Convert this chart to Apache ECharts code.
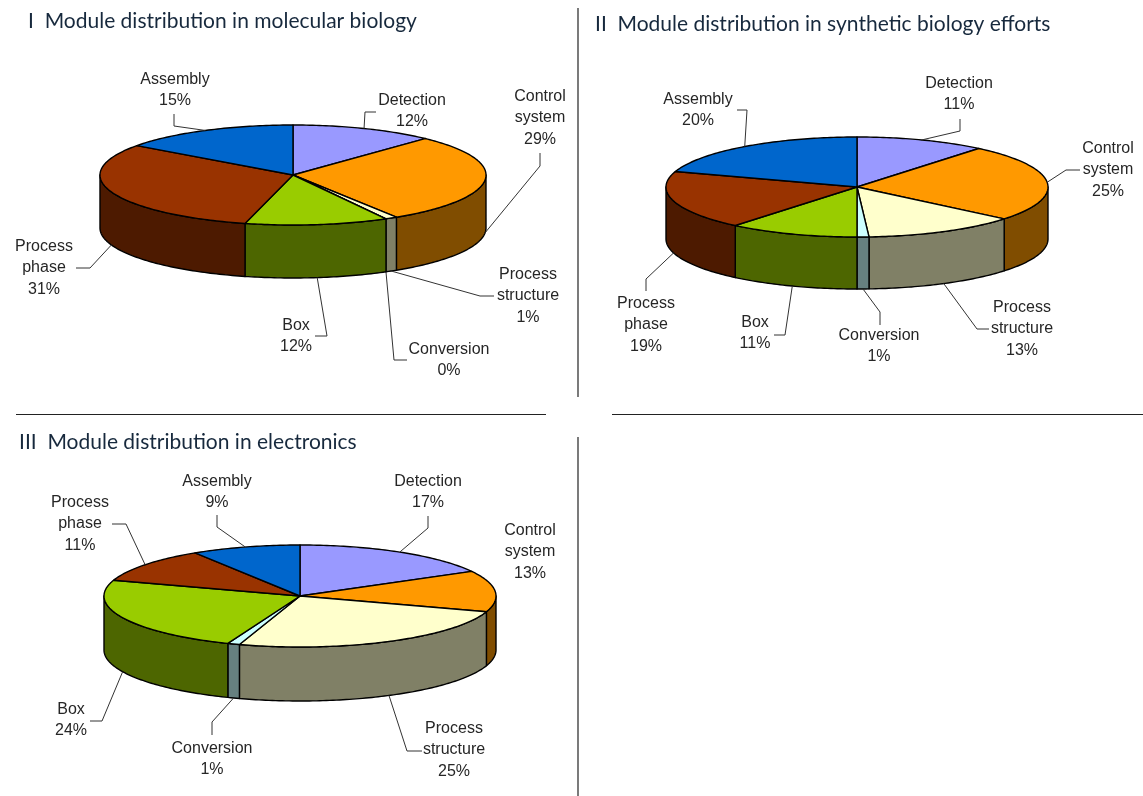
<!DOCTYPE html>
<html>
<head>
<meta charset="utf-8">
<title>Module distribution</title>
<script src="https://cdn.jsdelivr.net/npm/echarts@6/dist/echarts.min.js"></script>
<style>
  html, body { margin: 0; padding: 0; background: #fff; }
  #chart { width: 1143px; height: 796px; }
</style>
</head>
<body>
<div id="chart"></div>
<script>
// Module names, clockwise from twelve o'clock
const moduleNames = ['Detection', 'Control\nsystem', 'Process\nstructure', 'Conversion', 'Box', 'Process\nphase', 'Assembly'];

// Percentage share of every module in each field
const molecularBiologyShares = [12, 29, 1, 0, 12, 31, 15];
const syntheticBiologyShares = [11, 25, 13, 1, 11, 19, 20];
const electronicsShares = [17, 13, 25, 1, 24, 11, 9];

const chartTitles = [
  'I  Module distribution in molecular biology',
  'II  Module distribution in synthetic biology efforts',
  'III  Module distribution in electronics'
];

// Top face and side wall colours, one pair per module
const topColors = ['#9999FF', '#FF9900', '#FFFFCC', '#CCFFFF', '#99CC00', '#993300', '#0066CC'];
const wallColors = ['#4D4D80', '#804D00', '#808066', '#668080', '#4D6600', '#4D1A00', '#003366'];

// Disc geometry and label placement. Each label holds its centre and the
// elbow points of its leader; the leader's far end follows the slice.
const layouts = [
  {
    cx: 293, cy: 175, rx: 193, ry: 50, depth: 53,
    labels: [
      { at: [412, 111], elbow: [[376, 112], [365, 112]] },
      { at: [540, 118], elbow: [[540, 153], [540, 166]] },
      { at: [528, 296], elbow: [[494, 296], [480, 296]] },
      { at: [449, 360], elbow: [[407, 360], [394, 360]] },
      { at: [296, 336], elbow: [[315, 336], [327, 336]] },
      { at: [44, 268], elbow: [[76, 268], [90, 268]] },
      { at: [175, 90], elbow: [[174, 114], [174, 126]] }
    ]
  },
  {
    cx: 857, cy: 187, rx: 191, ry: 50, depth: 52,
    labels: [
      { at: [959, 94], elbow: [[960, 119], [960, 131]] },
      { at: [1108, 170], elbow: [[1080, 170], [1066, 170]] },
      { at: [1022, 329], elbow: [[989, 329], [977, 329]] },
      { at: [879, 346], elbow: [[880, 325], [880, 312]] },
      { at: [755, 333], elbow: [[774, 335], [785, 335]] },
      { at: [646, 325], elbow: [[646, 291], [646, 279]] },
      { at: [698, 110], elbow: [[737, 110], [747, 110]] }
    ]
  },
  {
    cx: 300, cy: 596, rx: 196, ry: 51, depth: 54,
    labels: [
      { at: [428, 492], elbow: [[428, 516], [428, 528]] },
      { at: [530, 552], elbow: null },
      { at: [454, 750], elbow: [[422, 751], [407, 751]] },
      { at: [212, 759], elbow: [[212, 735], [212, 722]] },
      { at: [71, 720], elbow: [[90, 721], [102, 721]] },
      { at: [80, 524], elbow: [[112, 524], [126, 524]] },
      { at: [217, 492], elbow: [[217, 515], [217, 527]] }
    ]
  }
];

const DEG = Math.PI / 180;

// Point on the rim; the angle runs clockwise from the top of the ellipse
function rimPoint(geo, angle, drop) {
  return [
    geo.cx + geo.rx * Math.sin(angle * DEG),
    geo.cy - geo.ry * Math.cos(angle * DEG) + drop
  ];
}

function arcPoints(geo, from, to, drop) {
  const pts = [];
  const steps = Math.max(1, Math.ceil(Math.abs(to - from)));
  for (let i = 0; i <= steps; i++) {
    pts.push(rimPoint(geo, from + (to - from) * i / steps, drop));
  }
  return pts;
}

const outline = { stroke: '#000', lineWidth: 1.4, lineJoin: 'round' };

// Draws one slice: side wall (front half only), top face, leader and label
function sliceRenderer(geo, shares) {
  const total = shares.reduce((a, b) => a + b, 0);
  return function (params, api) {
    const i = params.dataIndex;
    const before = shares.slice(0, i).reduce((a, b) => a + b, 0);
    const start = before / total * 360;
    const end = (before + api.value(0)) / total * 360;
    const mid = (start + end) / 2;
    const children = [];

    const wallFrom = Math.max(start, 90);
    const wallTo = Math.min(end, 270);
    if (wallTo > wallFrom) {
      const upper = arcPoints(geo, wallFrom, wallTo, 0);
      const lower = arcPoints(geo, wallFrom, wallTo, geo.depth).reverse();
      children.push({
        type: 'polygon',
        shape: { points: upper.concat(lower) },
        style: Object.assign({ fill: wallColors[i] }, outline)
      });
    }

    children.push({
      type: 'polygon',
      shape: { points: [[geo.cx, geo.cy]].concat(arcPoints(geo, start, end, 0)) },
      style: Object.assign({ fill: topColors[i] }, outline)
    });

    const label = geo.labels[i];
    if (label.elbow) {
      const front = mid > 90 && mid < 270;
      children.push({
        type: 'polyline',
        shape: { points: label.elbow.concat([rimPoint(geo, mid, front ? geo.depth : 0)]) },
        style: { stroke: '#333', lineWidth: 1, fill: null }
      });
    }

    children.push({
      type: 'text',
      style: {
        text: moduleNames[i] + '\n' + api.value(0) + '%',
        x: label.at[0],
        y: label.at[1],
        align: 'center',
        verticalAlign: 'middle',
        fontFamily: '"Liberation Sans", Arial, sans-serif',
        fontSize: 16,
        lineHeight: 21.7,
        fill: '#262626'
      }
    });

    return { type: 'group', children: children };
  };
}

const allShares = [molecularBiologyShares, syntheticBiologyShares, electronicsShares];
const titlePlacement = [{ left: 28, top: 11 }, { left: 595, top: 14 }, { left: 19, top: 432 }];

const option = {
  backgroundColor: '#fff',
  animation: false,
  title: chartTitles.map((text, k) => ({
    text: text,
    left: titlePlacement[k].left,
    top: titlePlacement[k].top,
    padding: 0,
    textStyle: { fontFamily: 'Lato', fontSize: 21, fontWeight: 'normal', color: '#17293d' }
  })),
  series: allShares.map((shares, k) => ({
    type: 'custom',
    coordinateSystem: 'none',
    silent: true,
    data: shares.map(v => [v]),
    renderItem: sliceRenderer(layouts[k], shares)
  })),
  graphic: [
    { type: 'line', shape: { x1: 578, y1: 8, x2: 578, y2: 397 }, style: { stroke: '#222', lineWidth: 1.2 } },
    { type: 'line', shape: { x1: 578, y1: 437, x2: 578, y2: 796 }, style: { stroke: '#222', lineWidth: 1.2 } },
    { type: 'line', shape: { x1: 16, y1: 414.5, x2: 546, y2: 414.5 }, style: { stroke: '#222', lineWidth: 1.2 } },
    { type: 'line', shape: { x1: 612, y1: 414.5, x2: 1143, y2: 414.5 }, style: { stroke: '#222', lineWidth: 1.2 } }
  ]
};

echarts.init(document.getElementById('chart'), null, { renderer: 'canvas' }).setOption(option);
</script>
</body>
</html>
